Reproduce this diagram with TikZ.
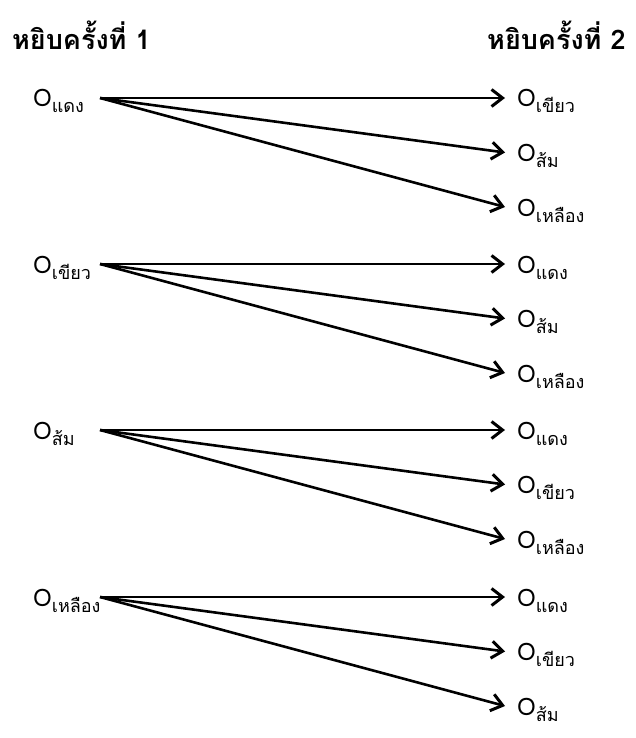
\documentclass[tikz,border=0pt]{standalone}
\usepackage{fontspec}
\setmainfont[Script=Thai]{Loma}
\usetikzlibrary{arrows.meta}
\newcommand{\obj}[1]{{\fontsize{24}{24}\selectfont O}\raisebox{-6pt}{\fontsize{18}{18}\selectfont #1}}
\begin{document}
\begin{tikzpicture}[
  x=1pt, y=-1pt,
  head/.style={anchor=base west, inner sep=0, font=\fontsize{27}{27}\selectfont\bfseries},
  lbl/.style={anchor=base west, inner sep=0, text height=24pt, text depth=6pt},
  rlbl/.style={lbl, inner xsep=12pt},
  arr/.style={-{Straight Barb[length=11pt, width=17pt, line width=3pt]}, line width=2.6pt},
]
\useasboundingbox (0,0) rectangle (635,738);
\node[head] (h1) at (12,50) {หยิบครั้งที่ 1};
\node[head] (h2) at (487,50) {หยิบครั้งที่ 2};

% first draw: red
\coordinate (s1) at (100,98);
\node[lbl] (l1) at (33,107) {\obj{แดง}};
\node[rlbl] (r1a) at (505,107) {\obj{เขียว}};
\node[rlbl] (r1b) at (505,161.5) {\obj{ส้ม}};
\node[rlbl] (r1c) at (505,216) {\obj{เหลือง}};

% first draw: green
\coordinate (s2) at (100,264);
\node[lbl] (l2) at (33,273) {\obj{เขียว}};
\node[rlbl] (r2a) at (505,273) {\obj{แดง}};
\node[rlbl] (r2b) at (505,327.5) {\obj{ส้ม}};
\node[rlbl] (r2c) at (505,382) {\obj{เหลือง}};

% first draw: orange
\coordinate (s3) at (100,430);
\node[lbl] (l3) at (33,439) {\obj{ส้ม}};
\node[rlbl] (r3a) at (505,439) {\obj{แดง}};
\node[rlbl] (r3b) at (505,493.5) {\obj{เขียว}};
\node[rlbl] (r3c) at (505,548) {\obj{เหลือง}};

% first draw: yellow
\coordinate (s4) at (100,597);
\node[lbl] (l4) at (33,606) {\obj{เหลือง}};
\node[rlbl] (r4a) at (505,606) {\obj{แดง}};
\node[rlbl] (r4b) at (505,660.5) {\obj{เขียว}};
\node[rlbl] (r4c) at (505,715) {\obj{ส้ม}};

\foreach \i in {1,...,4} {
  \foreach \j in {a,b,c}
    \draw[arr] (s\i) -- (r\i\j.west);
}
\end{tikzpicture}
\end{document}
